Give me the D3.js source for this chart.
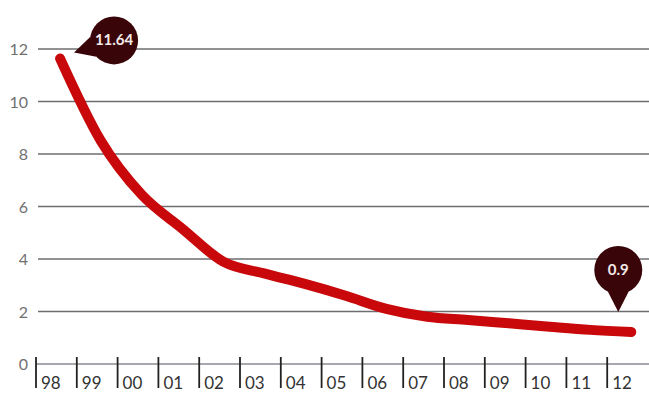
<!DOCTYPE html>
<html>
<head>
<meta charset="utf-8">
<script src="https://cdn.jsdelivr.net/npm/d3@7"></script>
<style>
  html, body { margin: 0; padding: 0; background: #fff; }
  svg { display: block; font-family: Lato, "Open Sans", sans-serif; }
</style>
</head>
<body>
<svg id="chart" width="649" height="396"></svg>
<script>
// years along the bottom
const years = ["98", "99", "00", "01", "02", "03", "04", "05", "06", "07", "08", "09", "10", "11", "12"];
// values
const values = [11.64, 8.5, 6.45, 5.15, 3.9, 3.45, 3.05, 2.6, 2.1, 1.8, 1.68, 1.55, 1.42, 1.3, 1.22];
const yTicks = [0, 2, 4, 6, 8, 10, 12];
// pin labels: offsets of bubble centre and tail tip from the point
const pins = [
    { i: 0, text: "11.64", dx: 54, dy: -18, tx: 14, ty: -6 },
    { i: 14, text: "0.9", dx: -13, dy: -62, tx: -13, ty: -20 }
];

const svg = d3.select("#chart");
const W = 649;

let x = d3.scaleBand()
    .domain(years)
    .range([36, 36 + 15 * 40.8])
    .padding(0);
let px = function(d) { return x(d) + x.bandwidth() * 0.59; };

let y = d3.scaleLinear()
    .domain([0, 12])
    .range([364, 49]);

// y labels
svg.selectAll(".ylab")
    .data(yTicks)
    .enter().append("text")
    .attr("class", "ylab")
    .attr("x", 28)
    .attr("y", function(d) { return y(d) + 6; })
    .attr("text-anchor", "end")
    .attr("font-size", 16)
    .attr("fill", "#707070")
    .text(function(d) { return d; });

// gridlines
svg.selectAll(".grid")
    .data(yTicks.filter(function(d) { return d > 0; }))
    .enter().append("line")
    .attr("class", "grid")
    .attr("x1", 38)
    .attr("x2", W)
    .attr("y1", function(d) { return y(d); })
    .attr("y2", function(d) { return y(d); })
    .attr("stroke", "#6e6e72")
    .attr("stroke-width", 1.3);

// base axis
svg.append("line")
    .attr("x1", 36)
    .attr("x2", W)
    .attr("y1", y(0))
    .attr("y2", y(0))
    .attr("stroke", "#8a8a90")
    .attr("stroke-width", 1.3);

// ticks
svg.selectAll(".tick")
    .data(years)
    .enter().append("line")
    .attr("class", "tick")
    .attr("x1", function(d) { return x(d); })
    .attr("x2", function(d) { return x(d); })
    .attr("y1", y(0) - 7)
    .attr("y2", y(0) + 24)
    .attr("stroke", "#222")
    .attr("stroke-width", 1.8);

// year labels
svg.selectAll(".xlab")
    .data(years)
    .enter().append("text")
    .attr("class", "xlab")
    .attr("x", function(d) { return x(d) + 5; })
    .attr("y", 389)
    .attr("font-size", 17)
    .attr("fill", "#333")
    .text(function(d) { return d; });

// the line
let line = d3.line()
    .x(function(d, i) { return px(years[i]); })
    .y(function(d) { return y(d); })
    .curve(d3.curveMonotoneX);

svg.append("path")
    .datum(values)
    .attr("d", line)
    .attr("fill", "none")
    .attr("stroke", "#c8080a")
    .attr("stroke-width", 10)
    .attr("stroke-linecap", "round")
    .attr("stroke-linejoin", "round");

// pins
pins.forEach(function(p) {
    let ax = px(years[p.i]);
    let ay = y(values[p.i]);
    let cx = ax + p.dx;
    let cy = ay + p.dy;
    let r = 24;
    let g = svg.append("g");
    // tail
    let tipX = ax + p.tx, tipY = ay + p.ty;
    let ang = Math.atan2(tipY - cy, tipX - cx);
    let spread = 0.45;
    g.append("path")
        .attr("d", "M" + (cx + r * Math.cos(ang - spread)) + "," + (cy + r * Math.sin(ang - spread)) +
            "L" + tipX + "," + tipY +
            "L" + (cx + r * Math.cos(ang + spread)) + "," + (cy + r * Math.sin(ang + spread)) + "Z")
        .attr("fill", "#3a0508");
    g.append("circle")
        .attr("cx", cx)
        .attr("cy", cy)
        .attr("r", r)
        .attr("fill", "#3a0508");
    g.append("text")
        .attr("x", cx)
        .attr("y", cy + 5)
        .attr("text-anchor", "middle")
        .attr("font-size", 15)
        .attr("font-weight", "bold")
        .attr("fill", "#f4eaea")
        .text(p.text);
});
</script>
</body>
</html>
